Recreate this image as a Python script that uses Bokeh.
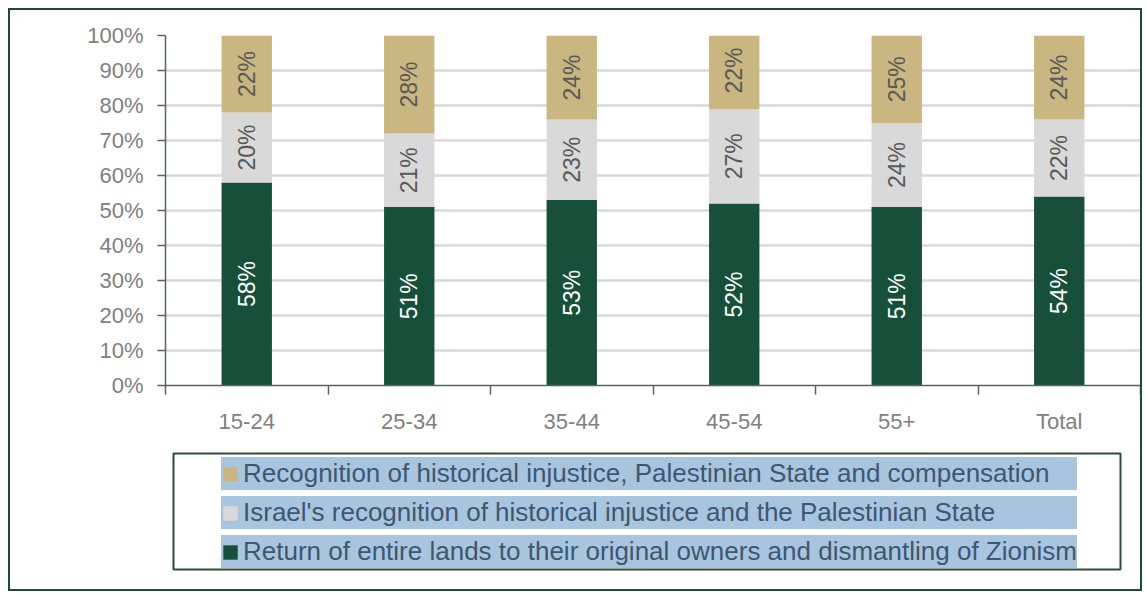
import math
from bokeh.plotting import figure
from bokeh.layouts import column
from bokeh.models import (ColumnDataSource, FixedTicker, PrintfTickFormatter, Legend,
                          LegendItem, BoxAnnotation, Range1d)
from bokeh.core.properties import value
from bokeh.embed import file_html
from bokeh.resources import INLINE

# ---------------- data ----------------
categories = ["15-24", "25-34", "35-44", "45-54", "55+", "Total"]
return_lands = [58, 51, 53, 52, 51, 54]
israel_recognition = [20, 21, 23, 27, 24, 22]
recognition_compensation = [22, 28, 24, 22, 25, 24]
y_ticks = [0, 10, 20, 30, 40, 50, 60, 70, 80, 90, 100]

series_names = [
    "Return of entire lands to their original owners and dismantling of Zionism",
    "Israel's recognition of historical injustice and the Palestinian State",
    "Recognition of historical injustice, Palestinian State and compensation",
]
series_values = [return_lands, israel_recognition, recognition_compensation]
series_colors = ["#17503a", "#d9d9d9", "#c9b680"]
label_colors = ["#ffffff", "#595959", "#595959"]

FONT = "Liberation Sans"
AXIS_COLOR = "#56645c"
TICK_LABEL_COLOR = "#808080"

W = 1130
H1 = 430
H2 = 149
LEFT = 155
BORDER = 2

xs = list(range(1, len(categories) + 1))
keys = ["s0", "s1", "s2"]
source = ColumnDataSource(dict(x=xs, s0=return_lands, s1=israel_recognition, s2=recognition_compensation))

# ---------------- chart ----------------
p = figure(width=W, height=H1,
           x_range=Range1d(0.5, len(categories) + 0.5), y_range=Range1d(0, 100),
           output_backend="svg", toolbar_location=None,
           min_border_left=LEFT, min_border_right=0, min_border_top=25, min_border_bottom=55)
p.background_fill_color = "white"
p.border_fill_color = "white"
p.outline_line_color = None

renderers = p.vbar_stack(keys, x="x", width=0.31, fill_color=series_colors,
                         line_color=None, source=source)

# segment labels
lx, ly, lt, lc = [], [], [], []
bottoms = [0] * len(categories)
for vals, col in zip(series_values, label_colors):
    for i, v in enumerate(vals):
        lx.append(xs[i])
        ly.append(bottoms[i] + v / 2)
        lt.append(f"{v}%")
        lc.append(col)
        bottoms[i] += v
p.text(x=lx, y=ly, text=lt, text_color=lc, angle=math.pi / 2,
       text_align="center", text_baseline="middle",
       text_font=value(FONT), text_font_size="23px")

# x axis: labels at category centres, tick marks on category boundaries
xa = p.xaxis[0]
xa.ticker = FixedTicker(ticks=xs, minor_ticks=[i + 0.5 for i in range(len(categories) + 1)])
xa.major_label_overrides = {x: c for x, c in zip(xs, categories)}
xa.major_tick_out = 0
xa.major_tick_in = 0
xa.minor_tick_out = 9
xa.minor_tick_in = 0
xa.minor_tick_line_color = AXIS_COLOR
xa.minor_tick_line_width = 1.5
xa.axis_line_color = AXIS_COLOR
xa.axis_line_width = 1.5
xa.major_label_standoff = 14
xa.major_label_text_font = FONT
xa.major_label_text_font_size = "22px"
xa.major_label_text_color = TICK_LABEL_COLOR

# y axis
ya = p.yaxis[0]
ya.ticker = FixedTicker(ticks=y_ticks, minor_ticks=[])
ya.formatter = PrintfTickFormatter(format="%d%%")
ya.major_tick_out = 8
ya.major_tick_in = 0
ya.minor_tick_out = 0
ya.major_tick_line_color = AXIS_COLOR
ya.major_tick_line_width = 1.5
ya.axis_line_color = AXIS_COLOR
ya.axis_line_width = 1.5
ya.major_label_standoff = 14
ya.major_label_text_font = FONT
ya.major_label_text_font_size = "22px"
ya.major_label_text_color = TICK_LABEL_COLOR

p.xgrid.visible = False
p.ygrid.grid_line_color = "#d9d9d9"
p.ygrid.grid_line_width = 2.5

# ---------------- legend panel ----------------
# data units of this panel are pixels of the layout
q = figure(width=W, height=H2, x_range=Range1d(LEFT, W), y_range=Range1d(0, H2),
           output_backend="svg", toolbar_location=None,
           x_axis_location=None, y_axis_location=None,
           min_border_left=LEFT, min_border_right=0,
           min_border_top=0, min_border_bottom=0)
q.grid.visible = False
q.outline_line_color = None
q.background_fill_color = "white"
q.border_fill_color = "white"

dummies = [q.vbar(x=[0], top=[0], bottom=[0], width=1, fill_color=c, line_color=None)
           for c in series_colors]

legend_box = BoxAnnotation(left=163, right=1110, bottom=20, top=136,
                           fill_color=None, line_color="#2f4a3f", line_alpha=1.0, line_width=2)
q.add_layout(legend_box)

items = [LegendItem(label=series_names[i], renderers=[dummies[i]]) for i in [2, 1, 0]]
legend = Legend(items=items, location=(211 - LEFT, 21), orientation="vertical",
                padding=0, spacing=6, label_height=33, glyph_width=18, glyph_height=18,
                label_standoff=4, label_text_font=FONT, label_text_font_size="26px",
                label_text_color="#3d5770", border_line_color=None,
                background_fill_alpha=0,
                item_background_policy="every", item_background_fill_color="#a7c5df",
                item_background_fill_alpha=1.0)
q.add_layout(legend)

layout = column(p, q, spacing=0, width=W + 2 * BORDER, height=H1 + H2 + 2 * BORDER,
                sizing_mode="fixed",
                styles={"border": f"{BORDER}px solid #1e4a36",
                        "margin-left": "8px", "margin-top": "8px"})

open("out.html", "w").write(file_html(layout, INLINE))
